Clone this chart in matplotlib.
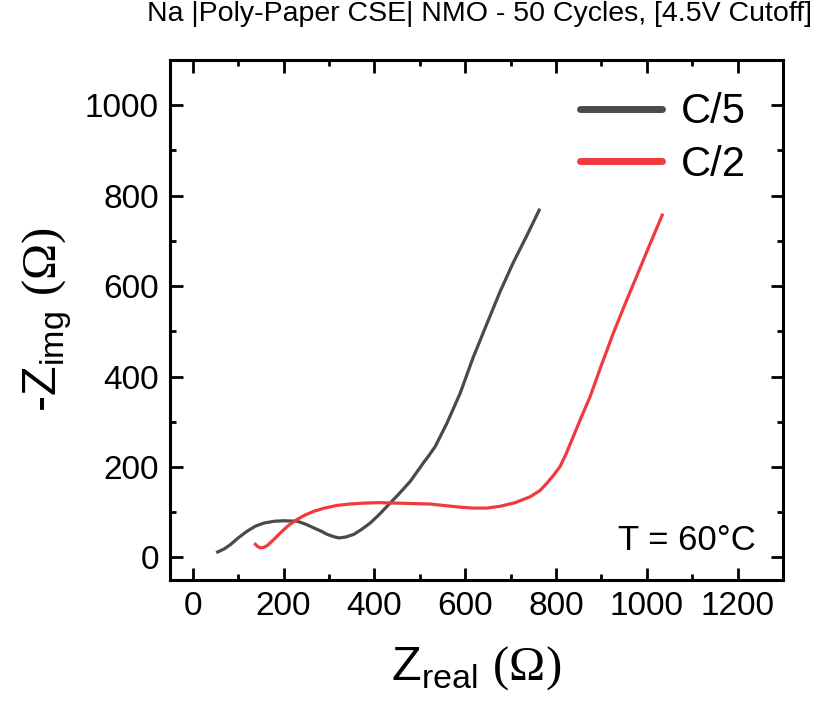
import matplotlib
matplotlib.use("Agg")
import matplotlib.pyplot as plt
from matplotlib.ticker import MultipleLocator

# data (Z_real, -Z_img) in ohm
c5_real = [55, 70, 84, 100, 120, 138, 157, 180, 201, 230, 250, 267, 283, 296, 310,
           322, 337, 355, 372, 391, 410, 428, 452, 479, 501, 508, 520, 534, 560,
           589, 618, 648, 677, 706, 736, 763]
c5_img = [12, 19, 29, 43, 58, 69, 76, 80, 81, 80, 73, 65, 58, 51, 46,
          43, 45, 51, 62, 76, 94, 113, 138, 168, 199, 209, 225, 245, 297,
          363, 443, 517, 588, 652, 712, 768]

c2_real = [138, 143, 149, 156, 164, 178, 193, 210, 230, 248, 267, 290, 318, 346,
           376, 412, 450, 487, 523, 560, 590, 618, 648, 677, 710, 743, 765, 780,
           795, 809, 822, 838, 855, 875, 900, 926, 950, 977, 1005, 1034]
c2_img = [29, 24, 21, 22, 26, 39, 54, 70, 84, 94, 102, 109, 115, 118,
          120, 121, 120, 119, 118, 114, 111, 109, 109, 113, 121, 134, 148, 164,
          182, 201, 228, 267, 308, 355, 425, 495, 555, 620, 688, 757]

labels = ["C/5", "C/2"]
colors = ["#4a4a4a", "#f03a3e"]

plt.rcParams['font.family'] = ['Liberation Sans', 'DejaVu Sans']
plt.rcParams['mathtext.fontset'] = 'custom'
plt.rcParams['mathtext.rm'] = 'Liberation Sans'
plt.rcParams['mathtext.sf'] = 'Liberation Serif'

fig = plt.figure(figsize=(8.31, 7.14), dpi=100)
ax = fig.add_axes([170/831, 1-580/714, (783-170)/831, (580-60)/714])

ax.plot(c5_real, c5_img, color=colors[0], lw=2.3, label=labels[0])
ax.plot(c2_real, c2_img, color=colors[1], lw=2.3, label=labels[1])

ax.set_xlim(-50, 1300)
ax.set_ylim(-50, 1100)
ax.xaxis.set_major_locator(MultipleLocator(200))
ax.xaxis.set_minor_locator(MultipleLocator(100))
ax.yaxis.set_major_locator(MultipleLocator(200))
ax.yaxis.set_minor_locator(MultipleLocator(100))
ax.tick_params(which='both', direction='in', top=True, right=True, width=2)
ax.tick_params(which='major', length=9, labelsize=24, pad=8)
ax.tick_params(which='minor', length=4)
for s in ax.spines.values():
    s.set_linewidth(2.2)

ax.set_xlabel(r"Z$_{\mathregular{real}}$ $\mathsf{(\Omega)}$", fontsize=35, labelpad=16)
ax.set_ylabel(r"-Z$_{\mathregular{img}}$ $\mathsf{(\Omega)}$", fontsize=35, labelpad=8)

leg = ax.legend(loc='upper right', bbox_to_anchor=(1.0, 1.01), frameon=False,
                fontsize=30, handlelength=1.95, handletextpad=0.45, labelspacing=0.3)
for h in leg.get_lines():
    h.set_linewidth(5)
    h.set_solid_capstyle('round')

ax.text(0.955, 0.075, "T = 60°C", transform=ax.transAxes, ha='right', va='center',
        fontsize=25)

fig.text(0.577, 0.98, "Na |Poly-Paper CSE| NMO - 50 Cycles, [4.5V Cutoff]",
         ha='center', va='center', fontsize=20.5)

fig.savefig("out.png", dpi=100)
